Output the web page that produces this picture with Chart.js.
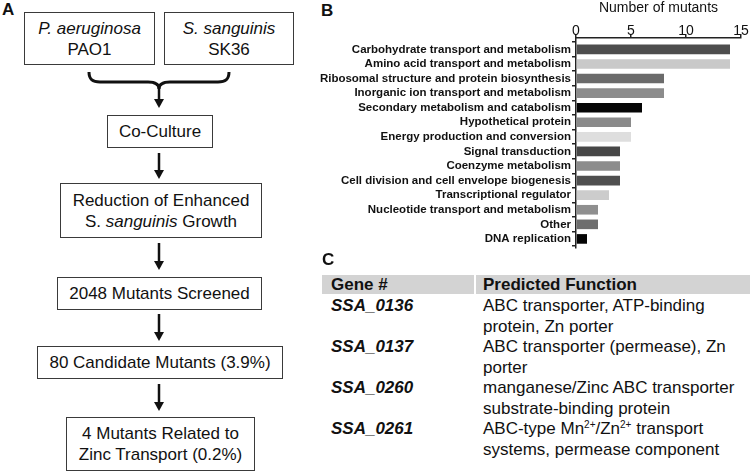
<!DOCTYPE html>
<html>
<head>
<meta charset="utf-8">
<script src="https://cdn.jsdelivr.net/npm/chart.js@4.4.1/dist/chart.umd.min.js"></script>
<style>
  html, body { margin: 0; padding: 0; background: #fff; }
  body { width: 750px; height: 471px; position: relative; overflow: hidden;
         font-family: "Liberation Sans", Arial, sans-serif; color: #111; }
  .panel { position: absolute; font-weight: bold; font-size: 17px; line-height: 17px; }
  .box { position: absolute; box-sizing: border-box; border: 1.5px solid #3a3a3a;
         display: flex; align-items: center; justify-content: center; text-align: center;
         font-size: 17px; line-height: 21px; }
  .hdr { position: absolute; top: 275px; height: 19px; background: #d3d3d3; }
  .cell { position: absolute; font-size: 17px; line-height: 20.5px; white-space: nowrap; }
  .cell.head { font-weight: bold; line-height: 19px; top: 275px; }
  .gene { font-weight: bold; font-style: italic; }
  sup { font-size: 10px; line-height: 0; vertical-align: 6px; }
  #chartWrap { position: absolute; left: 320px; top: 0; width: 430px; height: 256px; }
</style>
</head>
<body>

<!-- panel A: screening flowchart -->
<div class="panel" style="left:2px; top:1px;">A</div>

<div class="box" style="left:24px; top:12px; width:131px; height:53px;"><div><i>P. aeruginosa</i><br>PAO1</div></div>
<div class="box" style="left:164px; top:12px; width:130px; height:53px;"><div><i>S. sanguinis</i><br>SK36</div></div>
<div class="box" style="left:107px; top:115px; width:106px; height:33px;">Co-Culture</div>
<div class="box" style="left:60px; top:183px; width:202px; height:55px;"><div>Reduction of Enhanced<br>S. <i>sanguinis</i> Growth</div></div>
<div class="box" style="left:57px; top:277px; width:205px; height:33px;">2048 Mutants Screened</div>
<div class="box" style="left:37px; top:346px; width:246px; height:33px;">80 Candidate Mutants (3.9%)</div>
<div class="box" style="left:66px; top:417px; width:189px; height:54px;"><div>4 Mutants Related to<br>Zinc Transport (0.2%)</div></div>

<svg width="320" height="471" style="position:absolute; left:0; top:0;">
  <path d="M89,72 C89,79 92,82 100,82 L148,82 C155,82 159,84 159,89 C159,84 163,82 170,82 L218,82 C226,82 229,79 229,72"
        fill="none" stroke="#111" stroke-width="3"/>
  <g stroke="#111" stroke-width="2.5">
    <line x1="159" y1="88" x2="159" y2="100"/>
    <line x1="159" y1="153" x2="159" y2="171"/>
    <line x1="159" y1="243" x2="159" y2="262"/>
    <line x1="159" y1="314" x2="159" y2="333"/>
    <line x1="159" y1="384" x2="159" y2="403"/>
  </g>
  <g fill="#111">
    <polygon points="154,99 164,99 159,108"/>
    <polygon points="154,170 164,170 159,179"/>
    <polygon points="154,261 164,261 159,270"/>
    <polygon points="154,332 164,332 159,341"/>
    <polygon points="154,402 164,402 159,411"/>
  </g>
</svg>

<!-- panel B: bar chart -->
<div class="panel" style="left:321px; top:2px;">B</div>
<div id="chartWrap"><canvas id="mutantChart" width="430" height="256"></canvas></div>

<!-- panel C: gene table -->
<div class="panel" style="left:322px; top:251px;">C</div>
<div class="hdr" style="left:322px; width:152px;"></div>
<div class="hdr" style="left:476px; width:274px;"></div>
<div class="cell head" style="left:331px;">Gene #</div>
<div class="cell head" style="left:483px;">Predicted Function</div>
<div id="geneRows"></div>

<script>
const categories = [
  'Carbohydrate transport and metabolism',
  'Amino acid transport and metabolism',
  'Ribosomal structure and protein biosynthesis',
  'Inorganic ion transport and metabolism',
  'Secondary metabolism and catabolism',
  'Hypothetical protein',
  'Energy production and conversion',
  'Signal transduction',
  'Coenzyme metabolism',
  'Cell division and cell envelope biogenesis',
  'Transcriptional regulator',
  'Nucleotide transport and metabolism',
  'Other',
  'DNA replication',
];
const mutants = [14, 14, 8, 8, 6, 5, 5, 4, 4, 4, 3, 2, 2, 1];
const barColors = [
  '#4d4d4d', '#c9c9c9', '#6b6b6b', '#8c8c8c', '#050505', '#8a8a8a', '#dedede',
  '#474747', '#8c8c8c', '#4f4f4f', '#cccccc', '#8f8f8f', '#6e6e6e', '#050505',
];
const xTicks = [0, 5, 10, 15];

const genes = ['SSA_0136', 'SSA_0137', 'SSA_0260', 'SSA_0261'];
const functions = [
  ['ABC transporter, ATP-binding', 'protein, Zn porter'],
  ['ABC transporter (permease), Zn', 'porter'],
  ['manganese/Zinc ABC transporter', 'substrate-binding protein'],
  ['ABC-type Mn<sup>2+</sup>/Zn<sup>2+</sup> transport', 'systems, permease component'],
];

// table rows
const rows = document.getElementById('geneRows');
const lineH = 20.5;
genes.forEach((gene, i) => {
  const top = 296 + i * 2 * lineH;
  rows.insertAdjacentHTML('beforeend',
    `<div class="cell gene" style="left:331px; top:${top}px;">${gene}</div>` +
    `<div class="cell" style="left:483px; top:${top}px;">${functions[i].join('<br>')}</div>`);
});

const font = '"Liberation Sans", Arial, sans-serif';
const ink = '#111';

new Chart(document.getElementById('mutantChart'), {
  type: 'bar',
  data: {
    datasets: [{
      data: mutants.map((v, i) => ({ x: v, y: i })),
      backgroundColor: barColors,
      borderWidth: 0,
      barPercentage: 0.66,
      categoryPercentage: 1,
    }],
  },
  options: {
    indexAxis: 'y',
    responsive: false,
    animation: false,
    layout: { padding: { top: 0, right: 9, bottom: 0, left: 0 } },
    plugins: { legend: { display: false }, tooltip: { enabled: false } },
    scales: {
      x: {
        type: 'linear',
        position: 'top',
        min: 0,
        max: 15,
        afterBuildTicks: (axis) => { axis.ticks = xTicks.map((v) => ({ value: v })); },
        ticks: { color: ink, font: { family: font, size: 14 }, padding: -6 },
        grid: { drawOnChartArea: false, tickLength: 4, color: '#222', lineWidth: 1.5 },
        border: { color: '#222', width: 1.5 },
        title: {
          display: true, text: 'Number of mutants', color: ink,
          font: { family: font, size: 14 }, padding: { top: 0, bottom: 2 },
        },
        afterFit: (axis) => { axis.height = 38; },
      },
      y: {
        type: 'linear',
        reverse: true,
        offset: false,
        min: -0.78,
        max: 13.63,
        afterBuildTicks: (axis) => { axis.ticks = categories.map((c, i) => ({ value: i })); },
        ticks: {
          autoSkip: false, color: ink, padding: 1,
          font: { family: font, size: 11.5, weight: 'bold' },
          callback: (v) => categories[v],
        },
        grid: { drawOnChartArea: false, tickLength: 4, color: '#222', lineWidth: 1.5 },
        border: { color: '#222', width: 1.5 },
        afterFit: (axis) => { axis.width = 256; },
      },
    },
  },
});
</script>
</body>
</html>
